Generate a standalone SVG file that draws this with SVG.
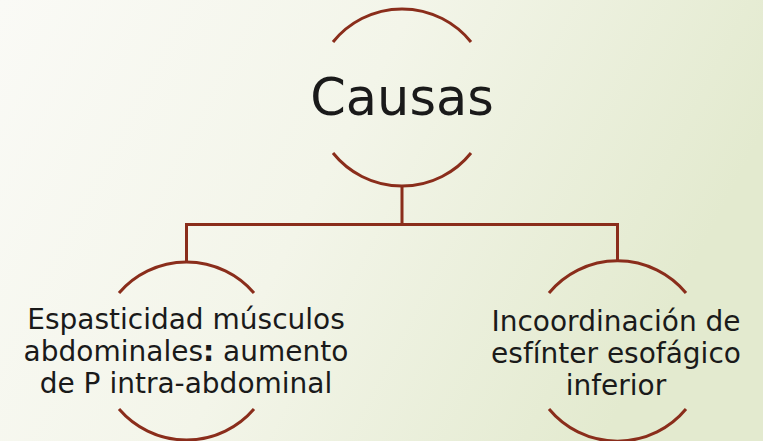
<svg xmlns="http://www.w3.org/2000/svg" width="763" height="441" viewBox="0 0 763 441">
<defs>
<linearGradient id="bg" x1="0" y1="0" x2="1" y2="0.3">
<stop offset="0" stop-color="#fafaf6"/>
<stop offset="0.5" stop-color="#f3f5e9"/>
<stop offset="1" stop-color="#e3eacf"/>
</linearGradient>
<style>
.arc{fill:none;stroke:#8a2d1b;stroke-width:3;stroke-linecap:butt}
.conn{fill:none;stroke:#8a2d1b;stroke-width:3}
.t{font-family:"DejaVu Sans","Liberation Sans",sans-serif;fill:#1a1a1a;text-anchor:middle}
.big{font-size:51px}
.small{font-size:28px}
</style>
</defs>
<rect width="763" height="441" fill="url(#bg)"/>
<g id="connectors">
<path class="conn" d="M402 186 V224.5 M186.5 224.5 H617.5 M186.5 223 V262 M617.5 223 V262"/>
</g>
<g id="node-causas">
<path class="arc" d="M333 42 A88.5 88.5 0 0 1 471 42"/>
<path class="arc" d="M333 153 A88.5 88.5 0 0 0 471 153"/>
<text class="t big" x="402" y="115">Causas</text>
</g>
<g id="node-espasticidad">
<path class="arc" d="M119 293 A89 89 0 0 1 254 293"/>
<path class="arc" d="M119 409 A89 89 0 0 0 254 409"/>
<text class="t small" x="186" y="329">Espasticidad músculos</text>
<text class="t small" x="186" y="361">abdominales<tspan font-weight="bold">:</tspan> aumento</text>
<text class="t small" x="186" y="393">de P intra-abdominal</text>
</g>
<g id="node-incoordinacion">
<path class="arc" d="M549 293 A89 89 0 0 1 686 293"/>
<path class="arc" d="M549 409 A89 89 0 0 0 686 409"/>
<text class="t small" x="616" y="331">Incoordinación de</text>
<text class="t small" x="616" y="363">esfínter esofágico</text>
<text class="t small" x="616" y="395">inferior</text>
</g>
</svg>
